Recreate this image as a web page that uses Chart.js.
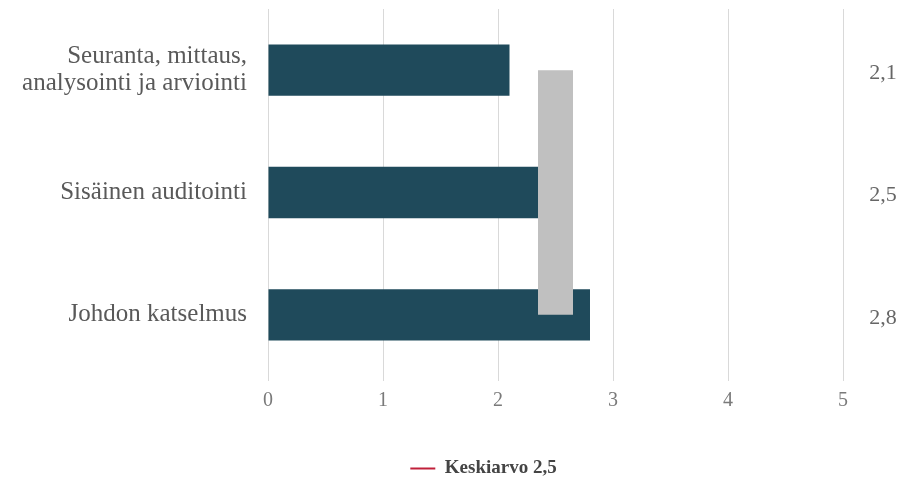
<!DOCTYPE html>
<html>
<head>
<meta charset="utf-8">
<script src="https://cdn.jsdelivr.net/npm/chart.js@4"></script>
<style>
  html, body { margin: 0; padding: 0; background: #ffffff; }
  #wrap { width: 905px; height: 481px; }
</style>
</head>
<body>
<div id="wrap"><canvas id="chart" width="905" height="481"></canvas></div>
<script>
// Process areas and their scores
const categories = [
  ["Seuranta, mittaus,", "analysointi ja arviointi"],
  "Sisäinen auditointi",
  "Johdon katselmus"
];
const scores = [2.1, 2.5, 2.8];
const average = 2.5;
const averageLabel = "Keskiarvo 2,5";
const xTicks = [0, 1, 2, 3, 4, 5];

const serif = "'Liberation Serif', 'DejaVu Serif', serif";

// Score text printed to the right of the plot area
const valueLabels = {
  id: 'valueLabels',
  afterDatasetsDraw(chart) {
    const { ctx, chartArea } = chart;
    const meta = chart.getDatasetMeta(1);
    ctx.save();
    ctx.font = "22px " + serif;
    ctx.fillStyle = "#666666";
    ctx.textAlign = "center";
    ctx.textBaseline = "middle";
    meta.data.forEach((bar, i) => {
      const txt = scores[i].toFixed(1).replace('.', ',');
      ctx.fillText(txt, chartArea.right + 40, bar.y + 3);
    });
    ctx.restore();
  }
};

// Centre the legend under the right-hand part of the chart
const legendOffset = {
  id: 'legendOffset',
  afterLayout(chart) {
    if (chart.legend) {
      chart.legend.left = 124;
    }
  }
};

new Chart(document.getElementById('chart'), {
  type: 'bar',
  data: {
    labels: categories,
    datasets: [
      {
        type: 'line',
        label: averageLabel,
        data: categories.map(() => average),
        borderColor: '#c0c0c0',
        borderWidth: 35,
        borderCapStyle: 'butt',
        pointRadius: 0,
        order: 1
      },
      {
        label: 'Pisteet',
        data: scores,
        backgroundColor: '#1f4a5b',
        categoryPercentage: 1,
        barPercentage: 0.42,
        order: 2
      }
    ]
  },
  options: {
    indexAxis: 'y',
    responsive: false,
    animation: false,
    layout: { padding: { top: 9, right: 62, bottom: -7, left: 0 } },
    scales: {
      x: {
        min: xTicks[0],
        max: xTicks[xTicks.length - 1],
        afterBuildTicks(scale) { scale.ticks = xTicks.map(v => ({ value: v })); },
        afterFit(scale) { scale.height = 79; },
        border: { display: false },
        grid: { color: '#d9d9d9', lineWidth: 1, drawTicks: true, tickLength: 5 },
        ticks: {
          font: { family: serif, size: 20 },
          color: '#7a7a7a',
          padding: 8
        }
      },
      y: {
        afterFit(scale) {
          scale.width = 268;
          scale.paddingTop = 0;
          scale.paddingBottom = 0;
        },
        border: { display: false },
        grid: { display: false },
        ticks: {
          font: { family: serif, size: 25, lineHeight: 1.08 },
          color: '#595959',
          padding: 13
        }
      }
    },
    plugins: {
      legend: {
        position: 'bottom',
        labels: {
          font: { family: serif, size: 19, weight: 'bold' },
          color: '#444444',
          boxWidth: 25,
          boxHeight: 2,
          padding: 4,
          generateLabels() {
            return [{
              text: averageLabel,
              fillStyle: '#c0203a',
              strokeStyle: '#c0203a',
              lineWidth: 0,
              fontColor: '#444444',
              datasetIndex: 0
            }];
          }
        }
      },
      tooltip: { enabled: false }
    }
  },
  plugins: [valueLabels, legendOffset]
});
</script>
</body>
</html>
